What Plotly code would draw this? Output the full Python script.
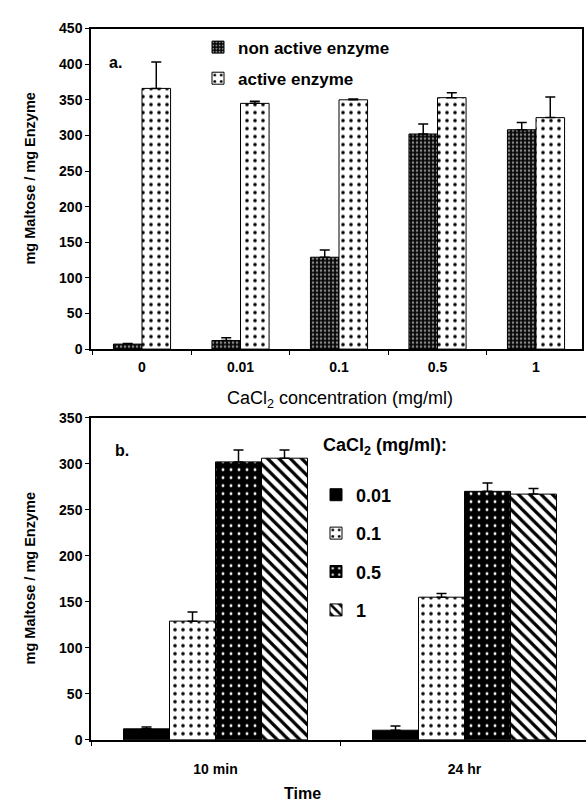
import plotly.graph_objects as go

W, H = 586, 806

# ---------------- data: panel a ----------------
conc_labels = ["0", "0.01", "0.1", "0.5", "1"]
non_active = [7, 12, 129, 302, 308]
non_active_err = [1, 4, 10, 14, 10]
active = [366, 345, 350, 353, 325]
active_err = [37, 3, 1, 7, 29]

# ---------------- data: panel b ----------------
time_labels = ["10 min", "24 hr"]
cacl_levels = ["0.01", "0.1", "0.5", "1"]
b_values = {
    "0.01": [12, 10.5],
    "0.1": [129, 155],
    "0.5": [302, 270],
    "1": [306, 267],
}
b_errors = {
    "0.01": [2, 4.5],
    "0.1": [10, 4],
    "0.5": [13, 9],
    "1": [9, 6],
}

FONT = "Arial, Liberation Sans, sans-serif"

def px_x(p):
    return p / W

def px_y(p):
    return (H - p) / H

patterns = {
    "non": dict(shape=".", bgcolor="#080808", fgcolor="#8a8a8a", size=4, solidity=0.3, fillmode="replace"),
    "act": dict(shape=".", bgcolor="white", fgcolor="black", size=8, solidity=0.16, fillmode="replace"),
    "0.01": None,
    "0.1": dict(shape=".", bgcolor="white", fgcolor="black", size=8, solidity=0.16, fillmode="replace"),
    "0.5": dict(shape=".", bgcolor="black", fgcolor="white", size=8, solidity=0.1, fillmode="replace"),
    "1": dict(shape="\\", bgcolor="white", fgcolor="black", size=8, solidity=0.4, fillmode="replace"),
}

def err(arr):
    return dict(type="data", array=arr, arrayminus=[0] * len(arr), symmetric=False,
                color="black", thickness=1.5, width=5)

fig = go.Figure()

# panel a
fig.add_trace(go.Bar(
    x=conc_labels, y=non_active, name="non active enzyme",
    marker=dict(color="black", pattern=patterns["non"], line=dict(color="black", width=1)),
    error_y=err(non_active_err), xaxis="x", yaxis="y", legend="legend", legendgroup="a1",
))
fig.add_trace(go.Bar(
    x=conc_labels, y=active, name="active enzyme",
    marker=dict(color="white", pattern=patterns["act"], line=dict(color="black", width=1)),
    error_y=err(active_err), xaxis="x", yaxis="y", legend="legend", legendgroup="a2",
))

a_left, a_right = 91, 582
a_c0, a_sp = 142, 98.5
b_left, b_right = 91, 586
b_c0, b_sp = 215.5, 249
b_bar_w = 46 / b_sp

# panel b
n_lev = len(cacl_levels)
for i, lev in enumerate(cacl_levels):
    pat = patterns[lev]
    marker = dict(color="black", line=dict(color="black", width=1))
    if pat is not None:
        marker["pattern"] = pat
        marker["color"] = pat["bgcolor"]
    fig.add_trace(go.Bar(
        x=time_labels, y=b_values[lev], name=lev, marker=marker,
        width=b_bar_w, offset=(i - n_lev / 2) * b_bar_w,
        error_y=err(b_errors[lev]), xaxis="x2", yaxis="y2", legend="legend2",
        legendgroup="b" + str(i),
    ))

axis_common = dict(showline=True, linecolor="black", linewidth=1.5, ticks="outside",
                   ticklen=4, tickcolor="black", showgrid=False, zeroline=False,
                   tickfont=dict(family=FONT, size=14, color="black", weight="bold"))

fig.update_layout(
    width=W, height=H, margin=dict(l=0, r=0, t=0, b=0),
    paper_bgcolor="white", plot_bgcolor="white",
    barmode="group", bargap=0.42,
    font=dict(family=FONT, color="black"),
    xaxis=dict(domain=[px_x(a_left), px_x(a_right)], anchor="y",
               type="category",
               range=[(a_left - a_c0) / a_sp, (a_right - a_c0) / a_sp],
               tickson="boundaries", mirror=True, ticklabelstandoff=4, **axis_common),
    yaxis=dict(domain=[px_y(348), px_y(21)], anchor="x", range=[0, 450], dtick=50,
               mirror=True, **axis_common),
    xaxis2=dict(domain=[px_x(b_left), px_x(b_right)], anchor="y2",
                type="category",
                range=[(b_left - b_c0) / b_sp, (b_right - b_c0) / b_sp],
                tickson="boundaries", mirror=True, ticklabelstandoff=16, **axis_common),
    yaxis2=dict(domain=[px_y(746.7), px_y(418)], anchor="x2", range=[0, 350], dtick=50,
                **axis_common),
    legend=dict(x=px_x(198), y=px_y(22), xanchor="left", yanchor="top",
                bgcolor="rgba(0,0,0,0)", tracegroupgap=6, itemwidth=30,
                font=dict(family=FONT, size=17, color="black", weight="bold")),
    legend2=dict(x=px_x(316), y=px_y(478), xanchor="left", yanchor="top",
                 bgcolor="rgba(0,0,0,0)", tracegroupgap=12, itemwidth=30,
                 font=dict(family=FONT, size=18, color="black", weight="bold")),
)

annotations = [
    dict(x=px_x(115), y=px_y(56), text="<b>a.</b>", font=dict(size=16)),
    dict(x=px_x(122), y=px_y(451), text="<b>b.</b>", font=dict(size=16)),
    dict(x=px_x(30), y=px_y(174), text="<b>mg Maltose / mg Enzyme</b>", textangle=-90, font=dict(size=14.5)),
    dict(x=px_x(30), y=px_y(582), text="<b>mg Maltose / mg Enzyme</b>", textangle=-90, font=dict(size=14.5)),
    dict(x=px_x(340), y=px_y(399), text="CaCl<sub>2</sub> concentration (mg/ml)", font=dict(size=18)),
    dict(x=px_x(302), y=px_y(801), text="<b>Time</b>", font=dict(size=16)),
    dict(x=px_x(385), y=px_y(447), text="<b>CaCl<sub>2</sub> (mg/ml):</b>", font=dict(size=18)),
]
for a in annotations:
    a.update(xref="paper", yref="paper", showarrow=False, xanchor="center", yanchor="middle")
    a["font"].update(family=FONT, color="black")
fig.update_layout(annotations=annotations)

fig.write_html("out.html")
